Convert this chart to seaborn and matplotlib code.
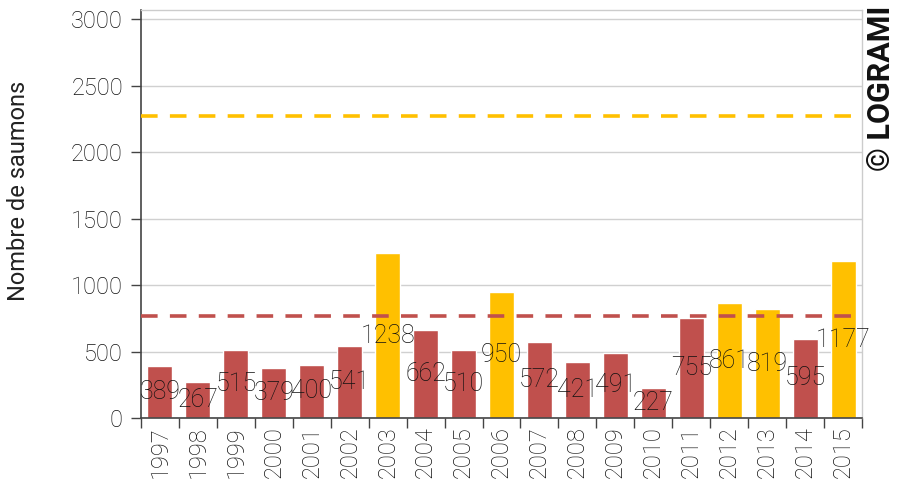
import numpy as np
import pandas as pd
import matplotlib
matplotlib.use("Agg")
import matplotlib.pyplot as plt
import seaborn as sns

# ── data ──────────────────────────────────────────────────────────────
years = [str(y) for y in range(1997, 2016)]
counts = [389, 267, 515, 379, 400, 541, 1238, 662, 510, 950,
          572, 421, 491, 227, 755, 861, 819, 595, 1177]
high_years = ["2003", "2006", "2012", "2013", "2015"]
mean_line = 765
target_line = 2270

RED = "#C0504D"
YELLOW = "#FFC000"

df = pd.DataFrame({"annee": years, "saumons": counts})
df["groupe"] = np.where(df["annee"].isin(high_years), "haut", "bas")

sns.set_theme(style="white")
plt.rcParams["font.family"] = ["Roboto", "DejaVu Sans"]
plt.rcParams["font.weight"] = "light"

fig = plt.figure(figsize=(9.08, 4.86), dpi=100)
ax = fig.add_axes([141 / 908, 1 - 418 / 486, (862 - 141) / 908, 408 / 486])

sns.barplot(data=df, x="annee", y="saumons", hue="groupe", order=years,
            palette={"bas": RED, "haut": YELLOW}, dodge=False, width=0.66,
            legend=False, saturation=1, ax=ax)

for cont in ax.containers:
    ax.bar_label(cont, label_type="center", fontsize=18, color="#111111",
                 fontweight="light")

ax.axhline(target_line, color=YELLOW, lw=2.6, ls=(0, (4.6, 3.4)), zorder=3)
ax.axhline(mean_line, color=RED, lw=2.6, ls=(0, (4.6, 3.4)), zorder=3)

ax.set_ylim(0, 3068)
ax.set_xlim(-0.5, len(years) - 0.5)
ax.set_yticks(np.arange(0, 3001, 500))
ax.yaxis.grid(True, color="#d0d0d0", lw=1)
ax.set_axisbelow(True)

ax.set_xlabel("")
ax.set_ylabel("Nombre de saumons", fontsize=17, color="#222222")
ax.yaxis.set_label_coords(-0.154, 0.556)

ax.tick_params(axis="y", labelsize=17, labelcolor="#111111", left=True,
               length=7, width=1, color="#444444", pad=6)
ax.tick_params(axis="x", which="major", labelsize=17, labelcolor="#111111",
               length=0, rotation=90, pad=6)
ax.set_xticks(np.arange(-0.5, len(years), 1), minor=True)
ax.tick_params(axis="x", which="minor", bottom=True, length=7, width=1,
               color="#444444")

for side in ["left", "bottom"]:
    ax.spines[side].set_color("#444444")
    ax.spines[side].set_linewidth(1.2)
for side in ["top", "right"]:
    ax.spines[side].set_visible(True)
    ax.spines[side].set_color("#cccccc")
    ax.spines[side].set_linewidth(1)

fig.text(881 / 908, 1 - 6 / 486, "© LOGRAMI", rotation=90, ha="center",
         va="top", fontsize=22, fontweight="bold", color="#111111")

fig.savefig("out.png", dpi=100)
